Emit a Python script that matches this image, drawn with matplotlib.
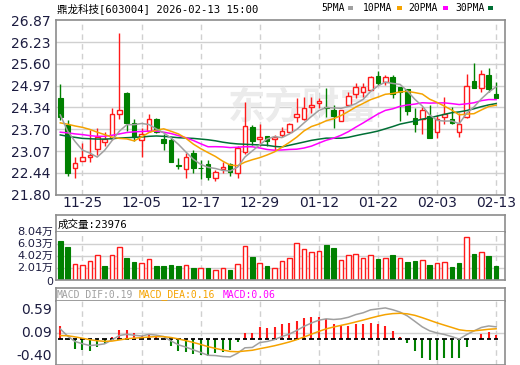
import matplotlib
matplotlib.use('Agg')
import matplotlib.pyplot as plt
from matplotlib.patches import Rectangle
import numpy as np
import pandas as pd

# ---------------- data ----------------
dates = ['11-20','11-21','11-24','11-25','11-26','11-27','11-28',
         '12-01','12-02','12-03','12-04','12-05','12-08','12-09','12-10','12-11','12-12',
         '12-15','12-16','12-17','12-18','12-19','12-22','12-23','12-24','12-25','12-26',
         '12-29','12-30','12-31','01-05','01-06','01-07','01-08','01-09','01-12',
         '01-13','01-14','01-15','01-16','01-19','01-20','01-21','01-22','01-23',
         '01-26','01-27','01-28','01-29','01-30','02-02','02-03','02-04','02-05','02-06',
         '02-09','02-10','02-11','02-12','02-13']
tick_dates = ['11-25','12-05','12-17','12-29','01-12','01-22','02-03','02-13']

open_ = [24.61, 23.83, 22.57, 22.79, 22.89, 23.12, 23.33, 23.44, 24.16, 24.75,
         23.89, 23.40, 23.65, 23.99, 23.41, 23.39, 22.66, 22.54, 23.03, 22.59,
         22.69, 22.28, 22.54, 22.69, 22.45, 23.05, 23.78, 23.41, 23.51, 23.42,
         23.55, 23.63, 24.05, 24.01, 24.34, 24.46, 24.36, 24.27, 23.93, 24.41,
         24.72, 24.77, 24.84, 25.25, 25.08, 25.22, 24.93, 24.87, 24.02, 23.99,
         24.08, 23.63, 24.05, 23.99, 23.63, 24.05, 25.10, 24.91, 25.29, 24.72]
high = [25.01, 23.97, 22.89, 23.32, 23.68, 23.73, 23.63, 24.31, 26.48, 24.77,
        24.00, 23.73, 24.14, 24.02, 23.56, 23.44, 22.86, 23.02, 23.09, 22.80,
        22.81, 22.51, 22.75, 22.74, 23.21, 24.50, 23.84, 23.85, 23.51, 23.54,
        23.78, 23.89, 24.62, 24.65, 24.65, 24.62, 24.91, 24.42, 24.27, 24.78,
        25.05, 25.05, 25.26, 25.40, 25.27, 25.27, 24.93, 24.87, 24.33, 24.34,
        24.42, 24.12, 24.65, 24.36, 24.18, 25.32, 25.62, 25.42, 25.49, 25.06]
low = [23.98, 22.36, 22.30, 22.79, 22.75, 22.96, 23.23, 23.39, 24.00, 23.65,
       23.35, 22.91, 23.63, 23.59, 23.10, 22.77, 22.54, 22.30, 22.45, 22.26,
       22.24, 22.21, 22.43, 22.36, 22.30, 23.00, 23.25, 23.23, 23.23, 23.10,
       23.49, 23.61, 23.91, 23.97, 24.18, 24.31, 24.05, 23.75, 23.93, 24.37,
       24.62, 24.65, 24.84, 25.00, 24.99, 24.61, 23.95, 24.12, 23.63, 23.58,
       23.44, 23.46, 23.87, 23.87, 23.49, 24.02, 24.91, 24.79, 24.79, 24.62]
close = [24.07, 22.43, 22.73, 22.89, 22.96, 23.48, 23.41, 24.14, 24.25, 23.90,
         23.49, 23.58, 23.99, 23.62, 23.31, 22.77, 22.64, 22.89, 22.57, 22.58,
         22.33, 22.47, 22.61, 22.48, 23.15, 23.80, 23.35, 23.48, 23.35, 23.48,
         23.65, 23.87, 24.14, 24.31, 24.41, 24.51, 24.31, 24.08, 24.25, 24.67,
         24.93, 24.93, 25.22, 25.05, 25.23, 24.73, 24.79, 24.24, 23.87, 24.26,
         23.44, 24.00, 24.14, 23.89, 23.86, 24.95, 24.91, 25.32, 24.87, 24.62]

# moving-average values before a full window exists
ma5_head = [24.12, 23.65, 23.35, 23.10]
ma10_head = [23.89, 23.85, 23.80, 23.76, 23.70, 23.62, 23.55, 23.48, 23.44]
ma20_head = [23.62, 23.60, 23.57, 23.55, 23.52, 23.50, 23.50, 23.53, 23.57, 23.61,
             23.63, 23.64, 23.65, 23.65, 23.62, 23.58, 23.52, 23.46, 23.38]
ma30_head = [23.54, 23.50, 23.47, 23.44, 23.43, 23.42, 23.42, 23.43, 23.45, 23.46,
             23.47, 23.48, 23.50, 23.51, 23.50, 23.48, 23.46, 23.45, 23.44, 23.42,
             23.40, 23.37, 23.33, 23.30, 23.28, 23.27, 23.26, 23.25, 23.24]

volume = [65800, 55800, 27300, 25600, 32300, 41900, 24000, 41900, 55300, 37400,
          29500, 28500, 35200, 24000, 24000, 25600, 24000, 25100, 19400, 20100,
          19400, 16800, 20100, 17300, 27300, 57500, 39000, 28500, 24000, 20100,
          31800, 36900, 62000, 51900, 46900, 48600, 59100, 54100, 33500, 41900,
          43500, 36900, 41900, 35200, 36900, 42400, 36900, 30200, 31800, 33500,
          25600, 28500, 30200, 22300, 29000, 72000, 44000, 46900, 40700, 23976]
volume_dir = "ggrrrrgrrg" "grrggggrgr" "grrgrrgrgr" "rrrrrrggrr" "rrrgrgrggr" "grrggrgrgg"

macd_hist = [0.206, -0.015, -0.145, -0.170, -0.181, -0.129, -0.077, 0.036, 0.139, 0.139,
             0.088, 0.052, 0.083, 0.046, 0.003, -0.108, -0.181, -0.201, -0.227, -0.248,
             -0.268, -0.222, -0.201, -0.170, -0.046, 0.098, 0.088, 0.190, 0.180, 0.190,
             0.227, 0.242, 0.284, 0.330, 0.346, 0.346, 0.310, 0.232, 0.201, 0.201,
             0.227, 0.227, 0.253, 0.227, 0.206, 0.119, 0.036, -0.067, -0.186, -0.284,
             -0.325, -0.315, -0.289, -0.284, -0.289, -0.119, -0.005, 0.083, 0.103, 0.060]
macd_dea = [0.055, 0.053, 0.035, 0.014, -0.009, -0.025, -0.034, -0.030, -0.012, 0.005,
            0.016, 0.023, 0.033, 0.039, 0.039, 0.025, 0.003, -0.023, -0.051, -0.082,
            -0.116, -0.143, -0.168, -0.190, -0.195, -0.183, -0.172, -0.148, -0.126, -0.102,
            -0.074, -0.044, -0.008, 0.033, 0.077, 0.120, 0.159, 0.188, 0.213, 0.238,
            0.266, 0.295, 0.326, 0.355, 0.380, 0.395, 0.400, 0.391, 0.368, 0.332,
            0.292, 0.252, 0.216, 0.181, 0.145, 0.130, 0.129, 0.140, 0.153, 0.160]
macd_dif = [0.158, 0.046, -0.037, -0.071, -0.099, -0.089, -0.073, -0.012, 0.057, 0.075,
            0.060, 0.049, 0.074, 0.062, 0.039, -0.029, -0.088, -0.123, -0.165, -0.206,
            -0.250, -0.254, -0.269, -0.275, -0.218, -0.134, -0.128, -0.053, -0.036, -0.007,
            0.040, 0.078, 0.134, 0.198, 0.250, 0.293, 0.314, 0.304, 0.313, 0.338,
            0.380, 0.408, 0.453, 0.468, 0.483, 0.455, 0.418, 0.358, 0.275, 0.190,
            0.129, 0.095, 0.072, 0.039, 0.000, 0.070, 0.127, 0.181, 0.204, 0.190]

price_ticks = [21.80, 22.44, 23.07, 23.70, 24.34, 24.97, 25.60, 26.23, 26.87]
vol_ticks = [0, 20100, 40200, 60300, 80400]
vol_tick_labels = ['0', '2.01万', '4.02万', '6.03万', '8.04万']
macd_ticks = [0.59, 0.09, -0.40]

title_text = '鼎龙科技[603004] 2026-02-13 15:00'
vol_title = '成交量:23976'
ma_names = ['5PMA', '10PMA', '20PMA', '30PMA']

# ---------------- style ----------------
RED = '#ff1a1a'
GREEN = '#008000'
MA_COLORS = ['#a0a0a0', '#f5a300', '#ff00ff', '#006f35']
GRID = '#d0d0d0'
FRAME = '#8c8c8c'
LBL = '#1c1c40'
CJK = ['DejaVu Sans Mono', 'Noto Sans CJK SC']
NUMF = ['DejaVu Sans', 'Noto Sans CJK SC']

W, H = 520, 365
fig = plt.figure(figsize=(W / 100, H / 100), dpi=100)
fig.patch.set_facecolor('white')


def ax_px(l, t, r, b):
    return fig.add_axes([l / W, 1 - b / H, (r - l) / W, (b - t) / H])


N = len(close)
x = np.arange(N)
xlim = (-0.58, 60.2)
tick_idx = [dates.index(d) for d in tick_dates]


def frame(ax):
    for s in ax.spines.values():
        s.set_color(FRAME)
        s.set_linewidth(1.2)
    ax.tick_params(length=0)


def vgrid(ax):
    for t in tick_idx:
        ax.axvline(t, color=GRID, lw=1, ls=(0, (4, 3)), zorder=0.5)


# ---------------- main price panel ----------------
ax = ax_px(56, 20, 505, 195)
ax.set_xlim(*xlim)
ax.set_ylim(price_ticks[0], price_ticks[-1])
frame(ax)
ax.set_yticks(price_ticks)
ax.set_yticklabels([f'{v:.2f}' for v in price_ticks], fontsize=10, color=LBL, family=NUMF)
ax.tick_params(axis='y', pad=4)
ax.set_xticks(tick_idx)
ax.set_xticklabels(tick_dates, fontsize=10, color=LBL, family=NUMF)
ax.tick_params(axis='x', pad=1)
for v in price_ticks[1:-1]:
    ax.axhline(v, color=GRID, lw=1, zorder=0.5)
vgrid(ax)

ax.text(0.55, 0.5, '东方财富', transform=ax.transAxes, fontsize=27, color='#ebebeb',
        family=['Noto Sans CJK SC'], fontweight='bold', ha='center', va='center', zorder=0.6)

bw = 0.62
for i in range(N):
    o, h, l, c = open_[i], high[i], low[i], close[i]
    if c >= o:
        ax.vlines(i, max(o, c), h, color=RED, lw=1, zorder=2)
        ax.vlines(i, l, min(o, c), color=RED, lw=1, zorder=2)
        ax.add_patch(Rectangle((i - bw / 2, o), bw, max(c - o, 0.005), facecolor='white',
                               edgecolor=RED, lw=1, zorder=2.1))
    else:
        ax.vlines(i, l, h, color=GREEN, lw=1, zorder=2)
        ax.add_patch(Rectangle((i - bw / 2, c), bw, max(o - c, 0.005), facecolor=GREEN,
                               edgecolor=GREEN, lw=0.8, zorder=2.1))

cs = pd.Series(close)
for n, head, col in [(30, ma30_head, MA_COLORS[3]), (20, ma20_head, MA_COLORS[2]),
                     (10, ma10_head, MA_COLORS[1]), (5, ma5_head, MA_COLORS[0])]:
    m = cs.rolling(n).mean().to_numpy()
    m[:len(head)] = head
    ax.plot(x, m, color=col, lw=1.1, zorder=3)

# title and legend
fig.text(57 / W, 1 - 9 / H, title_text, fontsize=7.6, family=CJK, color='black',
         ha='left', va='center')
leg_x = [321, 363, 408, 455]
sq_x = [348, 397, 443, 488]
for name, col, lx, sx in zip(ma_names, MA_COLORS, leg_x, sq_x):
    fig.text(lx / W, 1 - 8 / H, name, fontsize=7, family=['DejaVu Sans Mono'],
             color='black', ha='left', va='center')
    fig.add_artist(Rectangle((sx / W, 1 - 10 / H), 5 / W, 4 / H, transform=fig.transFigure,
                             facecolor=col, edgecolor='none'))

# ---------------- volume panel ----------------
axvt = ax_px(56, 215, 505, 232)
axvt.set_xticks([]); axvt.set_yticks([])
frame(axvt)
axvt.text(0.003, 0.45, vol_title, transform=axvt.transAxes, fontsize=7.6, family=CJK,
          color='black', ha='left', va='center')

axv = ax_px(56, 232, 505, 280)
axv.set_xlim(*xlim)
axv.set_ylim(0, vol_ticks[-1])
frame(axv)
axv.spines['top'].set_visible(False)
axv.set_xticks([])
axv.set_yticks([])
for v in vol_ticks[1:-1]:
    axv.axhline(v, color=GRID, lw=1, zorder=0.5)
vgrid(axv)
VFS = 7.8
for v, s in zip(vol_ticks, vol_tick_labels):
    if v == 0:
        axv.annotate(s, xy=(0, v), xycoords=axv.get_yaxis_transform(), xytext=(-3, -2),
                     textcoords='offset pixels', ha='right', va='center', fontsize=VFS,
                     color=LBL, family=['DejaVu Sans'], annotation_clip=False)
    else:
        num, unit = s[:-1], s[-1]
        axv.annotate(unit, xy=(0, v), xycoords=axv.get_yaxis_transform(), xytext=(-3, 0),
                     textcoords='offset pixels', ha='right', va='center', fontsize=VFS,
                     color=LBL, family=['Noto Sans CJK SC'], annotation_clip=False)
        axv.annotate(num, xy=(0, v), xycoords=axv.get_yaxis_transform(), xytext=(-13.5, 0),
                     textcoords='offset pixels', ha='right', va='center', fontsize=VFS + 0.4,
                     color=LBL, family=['DejaVu Sans'], annotation_clip=False)
vb = 0.62
for i in range(N):
    if volume_dir[i] == 'r':
        axv.add_patch(Rectangle((i - vb / 2, 0), vb, volume[i], facecolor='white',
                                edgecolor=RED, lw=1, zorder=2))
    else:
        axv.add_patch(Rectangle((i - vb / 2, 0), vb, volume[i], facecolor=GREEN,
                                edgecolor=GREEN, lw=0.8, zorder=2))

# ---------------- MACD panel ----------------
axmt = ax_px(56, 288, 505, 301)
axmt.set_xticks([]); axmt.set_yticks([])
frame(axmt)
for txt, col, px in [('MACD_DIF:0.19', '#a0a0a0', 57), ('MACD_DEA:0.16', '#f5a300', 139),
                     ('MACD:0.06', '#ff00ff', 223)]:
    fig.text(px / W, 1 - 295 / H, txt, fontsize=7, family=['DejaVu Sans Mono'], color=col,
             ha='left', va='center')

axm = ax_px(56, 301, 505, 365)
axm.set_xlim(*xlim)
axm.set_ylim(macd_ticks[-1], macd_ticks[0])
frame(axm)
axm.spines['top'].set_visible(False)
axm.set_xticks([]); axm.set_yticks([])
axm.axhline(macd_ticks[1], color=GRID, lw=1, zorder=0.5)
vgrid(axm)
for v in macd_ticks:
    va = 'top' if v == macd_ticks[0] else ('bottom' if v == macd_ticks[-1] else 'center')
    dy = -2 if va == 'top' else (2 if va == 'bottom' else 0)
    axm.annotate(f'{v:.2f}', xy=(0, v), xycoords=axm.get_yaxis_transform(), xytext=(-4, dy),
                 textcoords='offset pixels', ha='right', va=va, fontsize=10,
                 color=LBL, family=NUMF, annotation_clip=False)
hist = np.array(macd_hist)
axm.vlines(x, 0, hist, colors=[RED if v >= 0 else GREEN for v in hist], lw=1.5, zorder=2)
axm.hlines(np.zeros(N), x - 0.3, x + 0.3, colors='black', lw=1.3, zorder=2.5)
axm.plot(x, macd_dif, color='#a0a0a0', lw=1.1, zorder=3)
axm.plot(x, macd_dea, color='#f5a300', lw=1.1, zorder=3)

fig.savefig('out.png', dpi=100, facecolor='white')
